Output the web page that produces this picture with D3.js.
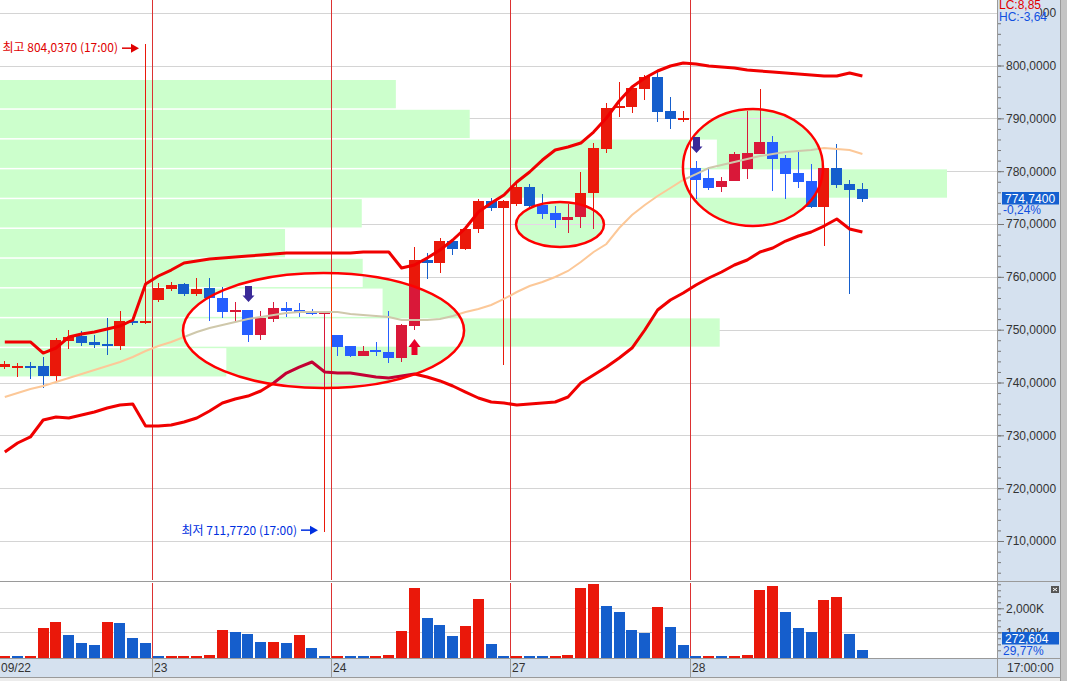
<!DOCTYPE html>
<html>
<head>
<meta charset="utf-8">
<script src="https://cdnjs.cloudflare.com/ajax/libs/d3/7.8.5/d3.min.js"></script>
<style>
  body { margin: 0; background: #fff; overflow: hidden; }
  svg { display: block; font-family: "Liberation Sans", Arial, sans-serif; }
</style>
</head>
<body>
<div id="chart"></div>
<script>
(function () {

  // ---- data ----
  var dayLabels = ["09/22", "23", "24", "27", "28"]
  var dayStart = [0, 12, 26, 40, 54]

  var opens = [742.93, 743.12, 743.05, 743.12, 741.23, 747.86, 748.80, 747.67, 747.29, 746.91, 751.64, 751.26,
    755.62, 757.70, 758.64, 756.75, 757.89, 756.00, 753.35, 753.72, 748.99, 752.02, 754.10, 753.72, 753.53, 752.97,
    748.99, 746.91, 745.02, 746.15, 745.77, 744.64, 750.69, 763.19, 762.62, 766.78, 765.27, 769.05, 774.35, 773.03,
    773.79, 777.00, 773.60, 772.08, 770.76, 771.32, 775.87, 784.20, 791.96, 792.15, 795.55, 797.82, 791.39, 790.07,
    780.60, 778.71, 777.00, 778.14, 780.41, 783.25, 785.52, 782.49, 779.65, 778.14, 773.22, 780.60, 777.57, 776.63]
  var highs = [744.07, 743.69, 743.88, 744.83, 748.43, 749.94, 749.75, 748.99, 752.21, 753.53, 752.02, 804.037,
    758.84, 759.02, 758.84, 759.78, 759.78, 758.08, 755.24, 753.72, 753.53, 755.24, 755.24, 755.05, 753.91, 753.35,
    748.99, 746.91, 746.91, 747.67, 753.53, 751.07, 765.65, 764.51, 767.35, 766.97, 769.62, 774.73, 774.92, 774.54,
    777.57, 777.57, 775.68, 773.41, 773.79, 779.84, 785.33, 792.90, 796.88, 795.74, 798.20, 798.96, 794.04, 791.39,
    781.93, 780.79, 778.90, 783.63, 791.39, 795.55, 786.66, 783.06, 783.63, 781.36, 780.60, 785.14, 778.33, 777.76]
  var lows = [742.55, 741.04, 740.66, 738.96, 740.29, 746.34, 746.91, 746.53, 745.21, 746.15, 750.88, 751.07,
    755.24, 757.32, 756.37, 756.37, 751.64, 752.21, 751.45, 747.67, 748.05, 751.45, 752.40, 752.40, 752.78, 711.772,
    745.02, 744.83, 745.02, 745.02, 743.69, 743.88, 749.94, 759.59, 760.73, 764.13, 765.08, 768.30, 772.46, 743.31,
    773.41, 773.22, 770.95, 769.24, 768.30, 769.24, 769.05, 783.44, 790.25, 791.01, 793.47, 789.31, 787.98, 789.31,
    774.73, 776.44, 776.06, 778.14, 778.52, 783.25, 776.25, 774.73, 776.82, 773.03, 765.84, 776.82, 756.75, 774.16]
  var closes = [743.50, 743.20, 742.93, 741.23, 748.05, 748.62, 747.48, 747.10, 746.91, 751.64, 751.26, 751.64,
    757.89, 758.46, 756.75, 757.70, 756.00, 753.35, 753.72, 748.99, 752.21, 754.10, 753.53, 753.35, 752.97, 753.35,
    746.72, 745.02, 745.96, 745.96, 744.64, 750.88, 763.19, 762.62, 766.78, 765.27, 769.05, 774.35, 773.03, 774.35,
    777.00, 773.41, 771.89, 770.76, 771.32, 775.87, 784.39, 791.96, 792.34, 795.74, 797.82, 791.20, 789.88, 790.10,
    778.33, 776.82, 778.14, 783.25, 783.44, 785.52, 782.30, 779.46, 777.95, 773.22, 780.60, 777.38, 776.44, 774.74]
  // volume, thousands
  var volumes = [20, 18, 22, 1179, 1429, 888, 554, 471, 1429, 1388, 763, 554,
    14, 16, 18, 20, 70, 1096, 1013, 929, 596, 600, 554, 888, 346, 15,
    17, 16, 15, 18, 60, 1054, 2846, 1596, 1304, 846, 1263, 2388, 513, 15,
    17, 15, 14, 16, 70, 2846, 3012, 2096, 1846, 1096, 971, 2054, 1221, 471,
    15, 17, 16, 18, 60, 2763, 2930, 1846, 1180, 1013, 2346, 2471, 929, 272.604]

  var bbUpper = [747.67, 747.67, 747.67, 745.58, 746.53, 748.61, 749.18, 749.56, 750.13, 750.69, 751.83, 758.64,
    760.16, 761.29, 762.62, 763.00, 763.38, 763.57, 763.76, 763.94, 764.13, 764.32, 764.51, 764.51, 764.51, 764.51,
    764.51, 764.51, 764.70, 764.70, 764.70, 761.67, 762.24, 763.57, 765.08, 766.97, 769.24, 772.27, 773.98, 775.49,
    777.95, 779.84, 782.11, 784.01, 784.58, 785.33, 787.41, 790.07, 793.28, 795.93, 797.63, 798.96, 799.91, 800.48,
    800.29, 799.91, 799.72, 799.53, 799.15, 798.96, 798.77, 798.58, 798.39, 798.20, 798.01, 798.01, 798.58, 798.01]
  var bbLower = [726.85, 728.55, 729.69, 732.90, 733.47, 733.28, 733.85, 734.42, 735.17, 735.74, 735.93, 731.76,
    731.76, 731.95, 732.52, 733.28, 734.60, 736.12, 736.88, 737.44, 738.39, 739.90, 741.79, 742.93, 743.88, 741.99,
    741.79, 741.79, 741.42, 741.04, 740.85, 741.23, 741.61, 741.04, 740.29, 739.34, 738.20, 737.07, 736.31, 736.12,
    735.74, 735.93, 736.12, 736.31, 737.26, 739.90, 741.42, 742.93, 744.64, 746.53, 749.94, 753.72, 755.62, 756.94,
    758.46, 759.78, 760.92, 762.24, 763.19, 764.70, 765.46, 766.78, 767.73, 768.49, 769.62, 770.95, 769.05, 768.49]
  var ma = [737.25, 738.01, 738.77, 739.34, 740.10, 740.85, 741.61, 742.37, 743.12, 743.88, 744.83, 745.96,
    746.91, 747.67, 748.61, 749.56, 750.32, 750.88, 751.45, 752.02, 752.40, 752.78, 753.16, 753.35, 753.35, 753.35,
    753.35, 752.97, 752.78, 752.59, 752.40, 751.83, 751.83, 751.83, 752.02, 752.59, 753.35, 753.91, 754.67, 755.81,
    757.13, 758.27, 759.02, 759.97, 761.11, 762.81, 764.70, 766.22, 769.24, 771.70, 773.60, 775.30, 776.82, 778.33,
    779.46, 780.60, 781.17, 781.74, 782.30, 782.87, 783.25, 783.63, 783.82, 784.01, 784.39, 784.20, 784.01, 783.25]

  // volume-at-price bins (price edges, relative volume)
  var profEdge = [797.26, 791.62, 785.98, 780.34, 774.70, 769.06, 763.42, 757.78, 752.14, 746.50, 740.86]
  var profVol = [41.8, 49.6, 75.7, 100, 38.2, 30.1, 38.3, 40.4, 76.0, 23.9]

  var priceTicks = [710, 720, 730, 740, 750, 760, 770, 780, 790, 800, 810]
  var volTicks = [1000, 2000]

  var signals = [{ i: 19, dir: "down" }, { i: 32, dir: "up" }, { i: 54, dir: "down" }]
  var circles = [
    { i0: 13.92, i1: 35.88, p0: 760.73, p1: 738.96 },
    { i0: 39.94, i1: 46.81, p0: 774.17, p1: 765.65 },
    { i0: 52.98, i1: 63.92, p0: 791.77, p1: 769.62 }
  ]

  // ---- layout ----
  var W = 1067, H = 681
  var plotR = 997, mainB = 580, volT = 583, volB = 656.3, axT = 658, axB = 677
  var axisBg = "#d5e1ef"

  var pal = { bg: "#ffffff", prof: "#ccffcc", grid: "#d4d4d4", up: "#ea180a", down: "#155ecc",
              band: "#f00000", ma: "#fcc898", day: "#dc3232" }
  function xorC(c) { var k = d3.rgb(c); return d3.rgb(k.r ^ 51, k.g, k.b ^ 51).formatHex() }
  var palX = {}
  for (var key in pal) palX[key] = xorC(pal[key])

  var n = opens.length
  var x = d3.scaleBand().domain(d3.range(n)).range([-1.6, 868.8]).paddingInner(0.14).paddingOuter(0.07)
  var bw = x.bandwidth(), step = x.step()
  function cx(i) { return x(i) + bw / 2 }
  var xi = d3.scaleLinear().domain([0, n - 1]).range([cx(0), cx(n - 1)])
  function slotL(i) { return x(i) - step * 0.07 }

  var y = d3.scaleLinear().domain([702.62, 812.4]).range([mainB, 0])
  var yv = d3.scaleLinear().domain([0, 3054]).range([volB, volT])
  var xp = d3.scaleLinear().domain([0, 100]).range([0, 947])

  var svg = d3.select("#chart").append("svg")
      .attr("width", W)
      .attr("height", H)

  function upDown(i, p) { return closes[i] >= opens[i] ? p.up : p.down }

  function drawScene(g, p) {
    g.append("rect").attr("x", 0).attr("y", 0).attr("width", plotR).attr("height", mainB).attr("fill", p.bg)

    g.selectAll(null).data(priceTicks).enter().append("line")
      .attr("x1", 0).attr("x2", plotR)
      .attr("y1", function(d) { return Math.round(y(d)) + 0.5 })
      .attr("y2", function(d) { return Math.round(y(d)) + 0.5 })
      .attr("stroke", p.grid)

    g.selectAll(null).data(profVol).enter().append("rect")
      .attr("x", 0)
      .attr("y", function(d, i) { return y(profEdge[i]) })
      .attr("width", function(d) { return xp(d) })
      .attr("height", function(d, i) { return y(profEdge[i + 1]) - y(profEdge[i]) - 1.5 })
      .attr("fill", p.prof)

    g.selectAll(null).data(dayStart.slice(1)).enter().append("line")
      .attr("x1", function(d) { return Math.round(slotL(d)) + 0.5 })
      .attr("x2", function(d) { return Math.round(slotL(d)) + 0.5 })
      .attr("y1", 0).attr("y2", mainB)
      .attr("stroke", p.day)

    var c = g.append("g").attr("shape-rendering", "crispEdges")
    c.selectAll(null).data(opens).enter().append("line")
      .attr("x1", function(d, i) { return Math.floor(cx(i)) + 0.5 })
      .attr("x2", function(d, i) { return Math.floor(cx(i)) + 0.5 })
      .attr("y1", function(d, i) { return y(highs[i]) })
      .attr("y2", function(d, i) { return y(lows[i]) })
      .attr("stroke", function(d, i) { return upDown(i, p) })
    c.selectAll(null).data(opens).enter().append("rect")
      .attr("x", function(d, i) { return Math.round(x(i)) })
      .attr("width", Math.round(bw))
      .attr("y", function(d, i) { return Math.min(y(d), y(closes[i])) })
      .attr("height", function(d, i) { return Math.max(2, Math.abs(y(d) - y(closes[i]))) })
      .attr("fill", function(d, i) { return upDown(i, p) })

    var line = d3.line()
      .x(function(d, i) { return cx(i) })
      .y(function(d) { return y(d) })

    g.append("path").datum(ma).attr("d", line)
      .attr("fill", "none").attr("stroke", p.ma).attr("stroke-width", 2)
    g.selectAll(null).data([bbUpper, bbLower]).enter().append("path")
      .attr("d", line)
      .attr("fill", "none").attr("stroke", p.band).attr("stroke-width", 3)
      .attr("stroke-linejoin", "round")
  }

  function ell(sel) {
    sel.attr("cx", function(d) { return (xi(d.i0) + xi(d.i1)) / 2 })
      .attr("cy", function(d) { return (y(d.p0) + y(d.p1)) / 2 })
      .attr("rx", function(d) { return (xi(d.i1) - xi(d.i0)) / 2 })
      .attr("ry", function(d) { return (y(d.p1) - y(d.p0)) / 2 })
  }

  // normal layer
  drawScene(svg.append("g"), pal)

  // ellipses are XOR-filled in the original: redraw the scene in xor'd colours inside them
  svg.append("defs").append("clipPath").attr("id", "ellClip")
    .selectAll("ellipse").data(circles).enter().append("ellipse").call(ell)
  drawScene(svg.append("g").attr("clip-path", "url(#ellClip)"), palX)

  svg.selectAll(".circ").data(circles).enter().append("ellipse")
    .attr("class", "circ")
    .call(ell)
    .attr("fill", "none").attr("stroke", "#ff0000").attr("stroke-width", 2.5)

  // buy / sell arrows
  svg.selectAll(".sig").data(signals).enter().append("path")
    .attr("class", "sig")
    .attr("d", function(d) {
      var X = Math.floor(cx(d.i)) + 0.5
      if (d.dir === "down") {
        var t = y(highs[d.i]) - 8
        return "M" + (X - 3.5) + "," + (t - 16) + "H" + (X + 3.5) + "V" + (t - 6.5) + "H" + (X + 6) +
          "L" + X + "," + t + "L" + (X - 6) + "," + (t - 6.5) + "H" + (X - 3.5) + "Z"
      }
      var b = y(lows[d.i]) + 9
      return "M" + (X - 3) + "," + (b + 16) + "H" + (X + 3) + "V" + (b + 8) + "H" + (X + 6) +
        "L" + X + "," + b + "L" + (X - 6) + "," + (b + 8) + "H" + (X - 3) + "Z"
    })
    .attr("fill", function(d) { return d.dir === "down" ? "#3a2a98" : "#e8002a" })

  // high / low notes
  var hiI = highs.indexOf(d3.max(highs)), loI = lows.indexOf(d3.min(lows))
  var fmt4 = function(v) { return d3.format(".4f")(v).replace(".", ",") }
  function note(i, v, col, label, ty, ay) {
    var tip = Math.floor(cx(i)) - 6
    svg.append("text")
      .attr("x", tip - 21).attr("y", y(v) + ty)
      .attr("text-anchor", "end")
      .attr("fill", col)
      .style("font-family", '"Noto Sans CJK KR", sans-serif')
      .style("font-size", "12px")
      .text(label + " " + fmt4(v) + " (17:00)")
    var ya = y(v) + ay
    svg.append("path")
      .attr("d", "M" + (tip - 17) + "," + ya + "H" + (tip - 7))
      .attr("stroke", col).attr("stroke-width", 1.5)
    svg.append("path")
      .attr("d", "M" + (tip - 8) + "," + (ya - 4.5) + "L" + tip + "," + ya + "L" + (tip - 8) + "," + (ya + 4.5) + "Z")
      .attr("fill", col)
  }
  note(hiI, highs[hiI], "#e00000", "최고", 8, 4)
  note(loI, lows[loI], "#0030e0", "최저", 3, -1.5)

  // ---- volume panel ----
  var vg = svg.append("g")
  vg.append("rect").attr("x", 0).attr("y", volT).attr("width", plotR).attr("height", axT - volT).attr("fill", "#fff")
  vg.selectAll(null).data(volTicks).enter().append("line")
    .attr("x1", 0).attr("x2", plotR)
    .attr("y1", function(d) { return Math.round(yv(d)) + 0.5 })
    .attr("y2", function(d) { return Math.round(yv(d)) + 0.5 })
    .attr("stroke", pal.grid)
  vg.selectAll(null).data(dayStart.slice(1)).enter().append("line")
    .attr("x1", function(d) { return Math.round(slotL(d)) + 0.5 })
    .attr("x2", function(d) { return Math.round(slotL(d)) + 0.5 })
    .attr("y1", volT).attr("y2", axT)
    .attr("stroke", pal.day)
  vg.append("g").attr("shape-rendering", "crispEdges")
    .selectAll("rect").data(volumes).enter().append("rect")
    .attr("x", function(d, i) { return Math.round(x(i)) })
    .attr("width", Math.round(bw))
    .attr("y", function(d) { return Math.round(yv(d)) })
    .attr("height", function(d) { return Math.max(1.5, volB + 1.4 - Math.round(yv(d))) })
    .attr("fill", function(d, i) { return (i === 0 || d > volumes[i - 1]) ? pal.up : pal.down })

  // ---- frame / axes ----
  svg.append("rect").attr("x", plotR).attr("y", 0).attr("width", 64).attr("height", axB).attr("fill", axisBg)
  svg.append("rect").attr("x", 0).attr("y", axT).attr("width", plotR).attr("height", axB - axT).attr("fill", axisBg)
  svg.append("rect").attr("x", 1061).attr("y", 0).attr("width", 6).attr("height", H).attr("fill", "#c4c4c4")
  svg.append("rect").attr("x", 0).attr("y", axB).attr("width", 1061).attr("height", H - axB).attr("fill", "#ececec")

  var frame = svg.append("g").attr("stroke", "#9a9a9a").attr("shape-rendering", "crispEdges")
  frame.append("line").attr("x1", 0).attr("x2", 1061).attr("y1", 581.5).attr("y2", 581.5)
  frame.append("line").attr("x1", 0).attr("x2", 1061).attr("y1", axT + 0.5).attr("y2", axT + 0.5)
  frame.append("line").attr("x1", 0).attr("x2", 1061).attr("y1", axB + 0.5).attr("y2", axB + 0.5)
  frame.append("line").attr("x1", plotR + 0.5).attr("x2", plotR + 0.5).attr("y1", 0).attr("y2", axB)
  frame.append("line").attr("x1", 1060.5).attr("x2", 1060.5).attr("y1", 0).attr("y2", H)
  frame.selectAll(null).data(dayStart.slice(1)).enter().append("line")
    .attr("x1", function(d) { return Math.round(slotL(d)) + 0.5 })
    .attr("x2", function(d) { return Math.round(slotL(d)) + 0.5 })
    .attr("y1", axT).attr("y2", axB)

  function styleAxis(a) {
    a.select(".domain").remove()
    a.selectAll("line").attr("stroke", "#777")
    a.selectAll("text").attr("fill", "#333").style("font-size", "12px").style("font-family", '"Liberation Sans", Arial, sans-serif')
  }

  var minor = d3.range(704, 812.4, 2)
  svg.append("g").attr("transform", "translate(" + (plotR + 1) + ",0)")
    .call(d3.axisRight(y).tickValues(minor).tickSize(3).tickFormat(""))
    .call(styleAxis)
  svg.append("g").attr("transform", "translate(" + (plotR + 1) + ",0)")
    .call(d3.axisRight(y).tickValues(priceTicks).tickSize(6).tickPadding(2).tickFormat(fmt4))
    .call(styleAxis)

  svg.append("g").attr("transform", "translate(" + (plotR + 1) + ",0)")
    .call(d3.axisRight(yv).tickValues(d3.range(250, 3001, 250)).tickSize(3).tickFormat(""))
    .call(styleAxis)
  svg.append("g").attr("transform", "translate(" + (plotR + 1) + ",0)")
    .call(d3.axisRight(yv).tickValues(volTicks).tickSize(6).tickPadding(2)
      .tickFormat(function(d) { return d3.format(",")(d) + "K" }))
    .call(styleAxis)

  // date labels
  svg.selectAll(".dlab").data(dayStart).enter().append("text")
    .attr("x", function(d) { return Math.max(1, Math.round(slotL(d)) + 2) })
    .attr("y", 672)
    .attr("fill", "#333").style("font-size", "12px")
    .text(function(d, i) { return dayLabels[i] })
  svg.append("text").attr("x", 1007).attr("y", 672).attr("fill", "#333").style("font-size", "12px").text("17:00:00")

  // LC / HC
  svg.append("rect").attr("x", plotR + 1).attr("y", 0).attr("width", 42).attr("height", 22).attr("fill", axisBg)
  svg.append("text").attr("x", 999).attr("y", 8.5).attr("fill", "#e00000").style("font-size", "12px").text("LC:8,85")
  svg.append("text").attr("x", 999).attr("y", 20.5).attr("fill", "#1050e0").style("font-size", "12px").text("HC:-3,64")

  // current price / volume boxes
  var last = closes[n - 1], yl = y(last)
  svg.append("rect").attr("x", 1002).attr("y", Math.round(yl) - 7).attr("width", 57).attr("height", 12.5).attr("fill", "#1560d0")
  svg.append("text").attr("x", 1005).attr("y", Math.round(yl) + 4).attr("fill", "#fff").style("font-size", "12px").text(fmt4(last))
  svg.append("text").attr("x", 1003).attr("y", Math.round(yl) + 15).attr("fill", "#1050e0").style("font-size", "12px").text("-0,24%")

  svg.append("rect").attr("x", 1002).attr("y", 632).attr("width", 57).attr("height", 12.5).attr("fill", "#1560d0")
  svg.append("text").attr("x", 1005).attr("y", 643).attr("fill", "#fff").style("font-size", "12px")
    .text(d3.format(".3f")(volumes[n - 1]).replace(".", ","))
  svg.append("text").attr("x", 1003).attr("y", 654.5).attr("fill", "#1050e0").style("font-size", "12px").text("29,77%")

  // close button of the volume pane
  svg.append("rect").attr("x", 1051).attr("y", 586).attr("width", 8).attr("height", 7).attr("fill", "#555")
  svg.append("path").attr("d", "M1053,588L1057,591M1057,588L1053,591").attr("stroke", "#fff").attr("stroke-width", 1)

})()
</script>
</body>
</html>
